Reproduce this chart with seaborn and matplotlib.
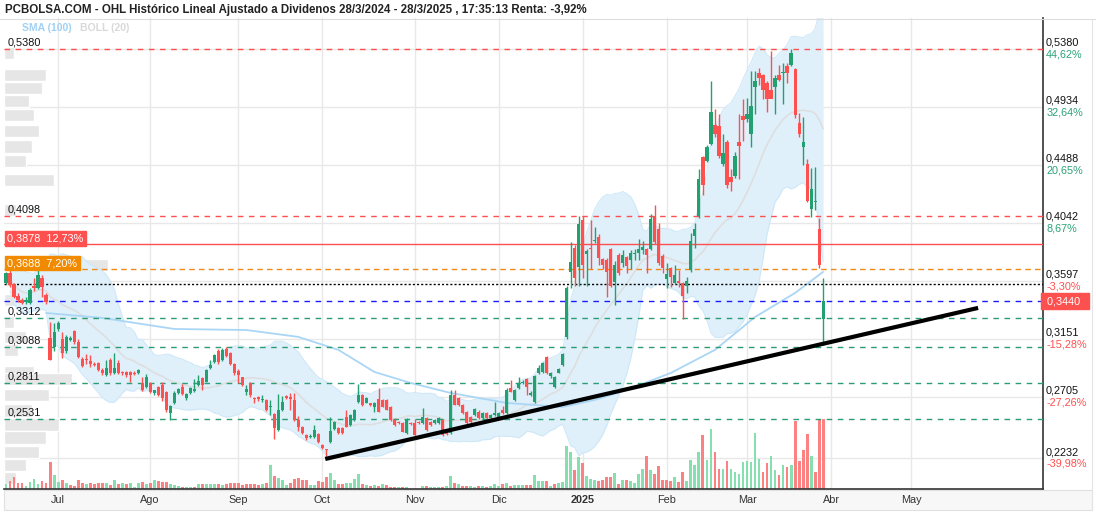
import numpy as np
import pandas as pd
import matplotlib
matplotlib.use("Agg")
import matplotlib.pyplot as plt
import matplotlib.transforms as mtransforms
from matplotlib.patches import Rectangle
import seaborn as sns

# ---------------- data ----------------
opens = [.3578,.3654,.3570,.3480,.3449,.3430,.3424,.3560,.3540,.3620,.3490,.3157,.3090,.3226,.3150,.3060,.3140,.3210,.3128,.2997,
         .2997,.2980,.2960,.2962,.2911,.2872,.2988,.2885,.2962,.2895,.2898,.2898,.2890,.2885,.2808,.2782,.2808,.2730,.2782,.2795,
         .2744,.2577,.2654,.2736,.2777,.2693,.2731,.2750,.2795,.2847,.2821,.2929,.2975,.3059,.2988,.3072,.3039,.2957,.2906,.2854,
         .2742,.2808,.2698,.2706,.2680,.2680,.2626,.2572,.2449,.2603,.2711,.2700,.2680,.2526,.2475,.2411,.2395,.2398,.2418,.2334,
         .2303,.2360,.2457,.2462,.2462,.2552,.2488,.2526,.2667,.2718,.2660,.2654,.2629,.2685,.2680,.2680,.2629,.2526,.2506,.2506,
         .2424,.2500,.2500,.2513,.2500,.2539,.2508,.2500,.2500,.2526,.2436,.2424,.2718,.2693,.2642,.2590,.2552,.2565,.2590,.2539,
         .2577,.2539,.2565,.2552,.2603,.2577,.2770,.2680,.2770,.2808,.2839,.2719,.2667,.2885,.2898,.3008,.2864,.2782,.2890,.2949,
         .3162,.3667,.3847,.3706,.4065,.3803,.3850,.3900,.3936,.3762,.3757,.3839,.3590,.3795,.3731,.3777,.3757,.3800,.3808,.3834,
         .3839,.3839,.4095,.3993,.3788,.3608,.3693,.3583,.3598,.3578,.3557,.3680,.3941,.4095,.4552,.4521,.4649,.4795,.4788,.4495,
         .4667,.4393,.4403,.4667,.4864,.4839,.4726,.5090,.5198,.5180,.5121,.5064,.5085,.5180,.5193,.5249,.5257,.5223,.4808,.4629,
         .4495,.4147,.4200,.3993,.3300]
highs = [.3667,.3680,.3578,.3500,.3462,.3470,.3540,.3620,.3685,.3640,.3500,.3280,.3270,.3290,.3200,.3180,.3170,.3220,.3150,.3010,
         .3030,.3025,.2975,.2970,.2925,.2988,.3000,.3039,.2990,.2905,.2905,.2900,.2900,.2915,.2860,.2880,.2815,.2760,.2790,.2820,
         .2750,.2640,.2750,.2770,.2800,.2735,.2780,.2840,.2870,.2860,.2915,.2988,.3030,.3070,.3080,.3085,.3045,.2965,.2915,.2860,
         .2795,.2815,.2705,.2712,.2720,.2685,.2680,.2580,.2726,.2711,.2720,.2735,.2731,.2560,.2480,.2420,.2420,.2490,.2425,.2340,
         .2305,.2552,.2520,.2470,.2470,.2603,.2570,.2610,.2803,.2725,.2700,.2660,.2665,.2770,.2690,.2690,.2635,.2540,.2515,.2510,
         .2540,.2510,.2530,.2520,.2615,.2545,.2515,.2530,.2545,.2530,.2440,.2760,.2760,.2700,.2650,.2595,.2560,.2615,.2600,.2585,
         .2585,.2570,.2667,.2585,.2635,.2770,.2834,.2765,.2860,.2830,.2845,.2745,.2870,.2950,.2975,.3015,.2895,.2865,.2925,.3040,
         .3560,.3898,.3870,.4098,.4098,.3838,.4065,.4008,.3960,.3770,.3770,.3850,.3750,.3810,.3830,.3790,.3830,.3840,.3918,.3900,
         .3850,.4110,.4182,.4040,.3800,.3730,.3700,.3720,.3680,.3590,.3625,.3963,.4040,.4454,.4560,.4640,.5131,.4918,.4880,.4726,
         .4680,.4457,.4588,.4880,.4995,.5003,.5208,.5208,.5234,.5190,.5130,.5362,.5180,.5257,.5270,.5270,.5380,.5230,.4890,.4854,
         .4534,.4462,.4475,.4082,.3621]
lows = [.3570,.3550,.3462,.3436,.3416,.3420,.3416,.3520,.3530,.3470,.3420,.2985,.3060,.3210,.3000,.3040,.3130,.3110,.3000,.2930,
        .2960,.2935,.2940,.2900,.2875,.2865,.2870,.2880,.2880,.2875,.2860,.2815,.2870,.2880,.2745,.2770,.2735,.2720,.2710,.2670,
        .2590,.2526,.2645,.2725,.2715,.2680,.2725,.2740,.2785,.2760,.2815,.2920,.2965,.2960,.2980,.3010,.2950,.2875,.2814,.2785,
        .2720,.2705,.2660,.2670,.2665,.2595,.2565,.2378,.2440,.2595,.2690,.2600,.2520,.2440,.2420,.2375,.2385,.2390,.2350,.2300,
        .2232,.2350,.2450,.2420,.2415,.2470,.2480,.2520,.2660,.2635,.2655,.2635,.2590,.2585,.2625,.2600,.2520,.2480,.2495,.2430,
        .2420,.2490,.2405,.2495,.2495,.2440,.2480,.2495,.2495,.2405,.2410,.2420,.2640,.2630,.2570,.2490,.2505,.2560,.2530,.2530,
        .2530,.2535,.2560,.2545,.2570,.2570,.2740,.2675,.2765,.2800,.2716,.2710,.2660,.2880,.2890,.2880,.2850,.2770,.2885,.2940,
        .3150,.3540,.3560,.3560,.3620,.3560,.3690,.3885,.3720,.3690,.3470,.3550,.3414,.3640,.3700,.3660,.3690,.3760,.3760,.3800,
        .3660,.3830,.3880,.3720,.3660,.3541,.3550,.3570,.3550,.3303,.3500,.3665,.3850,.4080,.4257,.4510,.4640,.4700,.4540,.4480,
        .4308,.4290,.4390,.4377,.4670,.4820,.4629,.4880,.5100,.4996,.4898,.5040,.4880,.5130,.4957,.5116,.5250,.4850,.4700,.4488,
        .4200,.4090,.4141,.3698,.3105]
closes = [.3654,.3565,.3475,.3449,.3424,.3450,.3526,.3540,.3640,.3550,.3437,.2988,.3200,.3270,.3039,.3166,.3160,.3128,.3010,.2944,
          .2985,.2960,.2950,.2911,.2885,.2923,.2885,.2923,.2885,.2885,.2872,.2872,.2880,.2911,.2757,.2859,.2744,.2755,.2718,.2693,
          .2603,.2634,.2731,.2762,.2724,.2726,.2770,.2762,.2829,.2795,.2911,.2949,.3026,.2975,.3065,.3018,.2957,.2885,.2872,.2795,
          .2762,.2718,.2690,.2688,.2690,.2603,.2636,.2462,.2603,.2667,.2698,.2690,.2526,.2475,.2429,.2385,.2405,.2449,.2360,.2308,
          .2295,.2440,.2513,.2429,.2424,.2475,.2565,.2603,.2718,.2642,.2693,.2642,.2660,.2590,.2629,.2603,.2526,.2488,.2500,.2436,
          .2526,.2495,.2411,.2500,.2552,.2449,.2488,.2526,.2539,.2411,.2419,.2718,.2642,.2642,.2577,.2500,.2513,.2608,.2539,.2577,
          .2539,.2565,.2577,.2578,.2577,.2757,.2744,.2757,.2813,.2821,.2777,.2737,.2866,.2924,.2967,.2885,.2890,.2860,.2916,.3034,
          .3539,.3744,.3616,.4034,.3718,.3828,.3840,.3908,.3770,.3718,.3667,.3557,.3718,.3660,.3795,.3711,.3813,.3813,.3839,.3859,
          .3795,.4070,.3898,.3736,.3693,.3649,.3629,.3642,.3583,.3480,.3596,.3903,.3993,.4377,.4334,.4629,.4898,.4726,.4557,.4583,
          .4334,.4360,.4557,.4634,.4834,.4880,.4941,.5131,.5154,.5064,.4993,.4993,.5154,.5141,.5198,.5193,.5352,.4872,.4726,.4667,
          .4213,.4300,.4210,.3718,.3440]
# volume (bar height, pixel-like units)
volume = [4.6,8.2,11.8,6.4,6.4,2.9,7.1,10.0,5.4,8.2,5.7,27.0,14.3,7.1,8.9,5.7,3.6,2.9,8.6,6.4,
          5.4,6.4,5.4,6.1,6.4,5.7,3.9,8.6,5.4,6.1,5.4,5.7,2.1,6.4,7.5,4.6,5.7,8.6,7.9,7.1,
          7.1,5.4,3.6,2.9,2.1,1.8,2.1,2.1,5.0,5.4,5.4,5.4,5.4,4.6,3.9,4.6,6.4,5.7,5.7,4.3,
          5.4,4.6,4.6,3.9,4.6,5.7,24.3,12.9,10.7,9.3,3.9,6.4,10.0,10.7,8.9,8.9,3.9,3.9,8.2,7.1,
          11.8,16.4,9.3,5.0,4.6,6.4,6.4,10.0,15.4,5.4,4.3,2.9,3.6,2.9,4.6,3.6,2.5,1.8,2.5,1.8,
          1.8,0.5,0.5,0.5,2.9,2.9,1.8,1.8,1.8,1.8,2.9,12.9,6.4,5.4,2.9,2.9,2.9,1.8,2.9,2.9,
          1.8,2.9,4.6,2.9,4.6,5.7,2.9,3.6,3.6,4.3,4.3,4.3,13.6,8.2,8.2,8.2,2.9,5.4,6.4,7.1,
          42.9,36.8,18.9,32.1,26.1,12.9,10.0,9.3,8.2,8.9,11.8,11.8,16.4,5.4,9.3,9.3,8.2,6.4,15.4,19.6,
          33.2,18.9,15.4,23.2,8.9,8.9,8.2,11.8,7.5,17.1,8.2,28.9,23.6,37.5,54.0,28.9,60.0,36.8,20.0,20.0,
          27.9,20.0,17.1,15.4,26.8,27.9,27.1,56.0,29.6,17.1,26.1,33.2,18.9,14.3,23.6,22.5,24.3,68.0,27.9,38.6,
          55.0,33.2,17.1,70.0,70.0]
# SMA(100) read at sample sessions
sma_idx = [10, 24, 42, 60, 73, 83, 92, 101, 111, 125, 139, 147, 155, 166, 177, 187, 197, 204]
sma_val = [.3349, .3311, .3226, .3218, .3165, .3065, .2895, .2811, .2734, .2657, .2626, .2680, .2757, .2888, .3065, .3318, .3503, .3665]
# volume-at-price profile (left)
prof_price = [.5350, .5180, .5080, .4980, .4870, .4750, .4630, .4520, .4370, .4140, .3720, .3605, .3450, .3280, .3165, .3065, .2895, .2840, .2720, .2600, .2490, .2390, .2280, .2180, .2080]
prof_vol = [2.5, 10.5, 9.5, 6.2, 7.5, 8.7, 7.0, 5.5, 12.5, 3.0, 26.0, 12.0, 13.7, 2.5, 5.5, 3.5, 7.5, 17.0, 11.2, 7.0, 13.7, 10.5, 8.7, 5.5, 3.0]
# trend line (session, price)
trend_idx = [79.7, 242.7]
trend_val = [0.2226, 0.3388]
# horizontal levels
lvl_red_dash = [0.5380, 0.4098]
lvl_green_dash = [0.3312, 0.3088, 0.2811, 0.2531]
lvl_red_solid = 0.3878
lvl_orange = 0.3688
lvl_dotted = 0.3572
last_price = 0.3440
box_labels = ["0,3878  12,73%", "0,3688  7,20%"]
yticks = [0.5380, 0.4934, 0.4488, 0.4042, 0.3597, 0.3151, 0.2705, 0.2232]
ytick_pct = ["44,62%", "32,64%", "20,65%", "8,67%", "-3,30%", "-15,28%", "-27,26%", "-39,98%"]
month_idx = [13, 36, 58, 79, 102, 123, 144, 165, 185, 206, 226]
month_lbl = ["Jul", "Ago", "Sep", "Oct", "Nov", "Dic", "2025", "Feb", "Mar", "Abr", "May"]

title = "PCBOLSA.COM - OHL Histórico Lineal Ajustado a Dividenos 28/3/2024 - 28/3/2025 , 17:35:13 Renta: -3,92%"

# ---------------- style ----------------
sns.set_style("white")
plt.rcParams['font.family'] = ['Liberation Sans', 'DejaVu Sans']

GREEN = "#22a06f"
RED = "#ff5050"
VGREEN = "#86dfae"
VRED = "#fb8282"
GRID = "#e8e8e8"

n = len(closes)
idx = np.arange(n)
df = pd.DataFrame({"i": idx, "o": opens, "h": highs, "l": lows, "c": closes, "v": volume})
df["mid"] = df["c"].rolling(20, min_periods=2).mean()
df["sd"] = df["c"].rolling(20, min_periods=2).std(ddof=0)
df["up"] = df["mid"] + 2 * df["sd"]
df["dn"] = df["mid"] - 2 * df["sd"]

W, H = 1096, 512
fig = plt.figure(figsize=(W / 100, H / 100), dpi=100)
fig.patch.set_facecolor("white")
L, R, T, B = 4, 1043, 18, 489

# bottom strip (drawn below everything)
strip = Rectangle((L / W, 2 / H), (1092 - L) / W, (H - B - 3) / H, transform=fig.transFigure,
                  facecolor="#f7f7f7", edgecolor="#e0e0e0", lw=0.8, zorder=-5)
fig.add_artist(strip)

ax = fig.add_axes([L / W, (H - B) / H, (R - L) / W, (B - T) / H])

XMIN, XMAX = -0.5, 258.9
YMIN, YMAX = 0.1995, 0.5618
PX = (YMAX - YMIN) / (B - T)      # price units per pixel
ax.set_xlim(XMIN, XMAX)
ax.set_ylim(YMIN, YMAX)

# grid
for m in month_idx:
    ax.axvline(m, color=GRID, lw=1, zorder=0)
for t in yticks:
    ax.axhline(t, color=GRID, lw=1, zorder=0)

# volume profile
ax.barh(prof_price, prof_vol, left=XMIN, height=0.0095, color="#e6e6e6", zorder=1)

# Bollinger band
ax.fill_between(df["i"], df["dn"], df["up"], color="#dff0fb", lw=0, zorder=1.5)
ax.plot(df["i"], df["up"], color="#cfe8f8", lw=0.8, zorder=1.6)
ax.plot(df["i"], df["dn"], color="#cfe8f8", lw=0.8, zorder=1.6)
sns.lineplot(x=df["i"], y=df["mid"], ax=ax, color="#dedede", lw=1.2, zorder=2)
sns.lineplot(x=sma_idx, y=sma_val, ax=ax, color="#aad6f6", lw=1.3, zorder=2.1)

# volume bars (coloured by close change)
vcol = [VGREEN if (k == 0 or closes[k] >= closes[k - 1]) else VRED for k in range(n)]
ax.bar(idx, np.array(volume) * PX, bottom=YMIN, width=0.72, color=vcol, lw=0, zorder=2.5)

# levels
for p in lvl_red_dash:
    ax.axhline(p, color=RED, lw=1, ls=(0, (4, 4)), zorder=3)
for p in lvl_green_dash:
    ax.axhline(p, color="#2a9d72", lw=1, ls=(0, (4, 4)), zorder=3)
ax.axhline(lvl_red_solid, color=RED, lw=1, zorder=3)
ax.axhline(lvl_orange, color="#f28a1a", lw=1, ls=(0, (4, 3)), zorder=3)
ax.axhline(lvl_dotted, color="black", lw=1, ls=(0, (1.5, 1.5)), zorder=3)
ax.axhline(last_price, color="#1a1aff", lw=1, ls=(0, (4, 4)), zorder=3)

# candles
col = [GREEN if c >= o else RED for o, c in zip(opens, closes)]
ax.vlines(idx, lows, highs, colors=col, lw=1, zorder=4)
bot = np.minimum(opens, closes)
hgt = np.maximum(np.abs(np.array(closes) - np.array(opens)), 0.0008)
ax.bar(idx, hgt, bottom=bot, width=0.78, color=col, lw=0, zorder=5)

# trend line
ax.plot(trend_idx, trend_val, color="black", lw=3, solid_capstyle="butt", zorder=6)

# axes cosmetics
for s in ["top", "left"]:
    ax.spines[s].set_visible(False)
ax.spines["right"].set_color("#333333")
ax.spines["bottom"].set_color("#333333")
ax.spines["right"].set_linewidth(1.2)
ax.spines["bottom"].set_linewidth(1.2)
ax.set_yticks([])
ax.set_xlabel("")
ax.set_ylabel("")
ax.set_xticks(month_idx)
ax.set_xticklabels(month_lbl)
ax.tick_params(axis="x", length=0, pad=4, labelsize=7.8, labelcolor="#333333")
for tl in ax.get_xticklabels():
    if tl.get_text() == "2025":
        tl.set_fontweight("bold")

# right labels
rblend = mtransforms.blended_transform_factory(ax.transAxes, ax.transData)
for t, pl in zip(yticks, ytick_pct):
    ax.text(1.003, t + 0.0008, f"{t:.4f}".replace(".", ","), transform=rblend, ha="left", va="bottom",
            fontsize=7.8, color="#111111", clip_on=False)
    ax.text(1.003, t - 0.0004, pl, transform=rblend, ha="left", va="top",
            fontsize=7.8, color=RED if pl.startswith("-") else "#2aa377", clip_on=False)
ax.text(1.001, last_price, f" {last_price:.4f}  ".replace(".", ","), transform=rblend, ha="left", va="center",
        fontsize=7.8, color="white", clip_on=False,
        bbox=dict(boxstyle="square,pad=0.25", fc=RED, ec=RED))

# left labels
lblend = mtransforms.blended_transform_factory(ax.transAxes, ax.transData)
for p in lvl_red_dash + lvl_green_dash:
    ax.text(0.0035, p + 0.0011, f"{p:.4f}".replace(".", ","), transform=lblend, ha="left", va="bottom",
            fontsize=7.8, color="#111111", zorder=7)
ax.text(0.003, lvl_red_solid + 0.0045, box_labels[0],
        transform=lblend, ha="left", va="center", fontsize=7.8, color="white", zorder=7,
        bbox=dict(boxstyle="square,pad=0.22", fc=RED, ec=RED))
ax.text(0.003, lvl_orange + 0.0045, box_labels[1],
        transform=lblend, ha="left", va="center", fontsize=7.8, color="white", zorder=7,
        bbox=dict(boxstyle="square,pad=0.22", fc="#f28a00", ec="#f28a00"))

# legend text
fig.text(22 / W, 1 - 28 / H, "SMA (100)", color="#9fd0f5", fontsize=7.5, fontweight="bold", va="center")
fig.text(80 / W, 1 - 28 / H, "BOLL (20)", color="#d8d8d8", fontsize=7.5, fontweight="bold", va="center")

# title bar
fig.add_artist(plt.Line2D([0, 1], [1 - 18.5 / H, 1 - 18.5 / H], transform=fig.transFigure, color="#dddddd", lw=0.8))
fig.text(5 / W, 1 - 9.5 / H, title, fontsize=8.3, fontweight="bold", color="#222222", va="center", ha="left")
# right border
fig.add_artist(plt.Line2D([1092 / W, 1092 / W], [2 / H, 1 - 18.5 / H], transform=fig.transFigure, color="#e4e4e4", lw=0.8))

fig.savefig("out.png", dpi=100, facecolor="white")
